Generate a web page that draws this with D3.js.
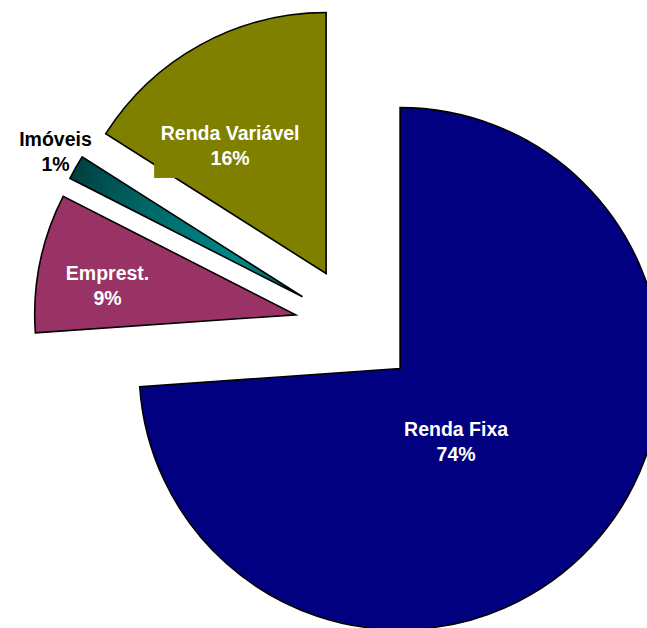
<!DOCTYPE html>
<html>
<head>
  <meta charset="utf-8">
  <title>Composição da carteira</title>
  <script src="https://cdn.jsdelivr.net/npm/d3@7"></script>
  <style>
    body { margin: 0; background: #fff; }
    text { font-family: Arial, "Liberation Sans", sans-serif; font-weight: bold; }
  </style>
</head>
<body>
  <svg id="chart"></svg>
  <script>
    // data, clockwise from 12 o'clock
    var categories = ["Renda Fixa", "Emprest.", "Imóveis", "Renda Variável"];
    var values = [73.9, 8.6, 1.5, 16.0];
    var pctLabels = ["74%", "9%", "1%", "16%"];
    var colors = ["#000080", "#993366", "url(#tealGrad)", "#808000"];

    var width = 647, height = 628;
    var cx = 355.5, cy = 327, radius = 261, explode = 61;

    // label placement relative to each slice tip (layout only)
    var labelOffset = [[56, 71.4], [-188.2, -30.8], [-247, -147], [-96, -129.6]];
    var labelColor = ["#fff", "#fff", "#000", "#fff"];
    var lineGap = 25;

    var svg = d3.select("#chart")
      .attr("width", width)
      .attr("height", height);

    var defs = svg.append("defs");
    var g = defs.append("linearGradient")
      .attr("id", "tealGrad")
      .attr("gradientUnits", "userSpaceOnUse");

    var pie = d3.pie().sort(null).value(function(d) { return d; });
    var arcs = pie(values);
    var arc = d3.arc().innerRadius(0).outerRadius(radius);

    function tip(d) {
      var a = (d.startAngle + d.endAngle) / 2;
      return [cx + explode * Math.sin(a), cy - explode * Math.cos(a)];
    }

    // gradient for the thin slice runs along its mid line
    // (coords are in the slice's own translated space)
    var im = arcs[2], imA = (im.startAngle + im.endAngle) / 2;
    g.attr("x1", radius * Math.sin(imA)).attr("y1", -radius * Math.cos(imA))
     .attr("x2", 0).attr("y2", 0);
    g.append("stop").attr("offset", "0%").attr("stop-color", "#004040");
    g.append("stop").attr("offset", "30%").attr("stop-color", "#006666");
    g.append("stop").attr("offset", "70%").attr("stop-color", "#008888");
    g.append("stop").attr("offset", "100%").attr("stop-color", "#006060");

    svg.append("g").selectAll("path")
      .data(arcs)
      .join("path")
      .attr("transform", function(d) { var t = tip(d); return "translate(" + t[0] + "," + t[1] + ")"; })
      .attr("d", arc)
      .attr("fill", function(d, i) { return colors[i]; })
      .attr("stroke", "#000")
      .attr("stroke-width", 1.6)
      .attr("stroke-linejoin", "miter");

    function labelPos(d, i) {
      var t = tip(d);
      return [t[0] + labelOffset[i][0], t[1] + labelOffset[i][1]];
    }

    // Renda Variável label has an olive box behind it
    var rvPos = labelPos(arcs[3], 3);
    svg.append("rect")
      .attr("x", rvPos[0] - 76)
      .attr("y", rvPos[1] - 24)
      .attr("width", 152)
      .attr("height", 58)
      .attr("fill", "#808000");

    var labels = svg.append("g").selectAll("text")
      .data(arcs)
      .join("text")
      .attr("text-anchor", "middle")
      .attr("font-size", 19.5)
      .attr("fill", function(d, i) { return labelColor[i]; })
      .attr("transform", function(d, i) {
        var p = labelPos(d, i);
        return "translate(" + p[0] + "," + p[1] + ")";
      });

    labels.append("tspan").attr("x", 0).attr("y", -4)
      .text(function(d, i) { return categories[i]; });
    labels.append("tspan").attr("x", 0).attr("y", -4 + lineGap)
      .text(function(d, i) { return pctLabels[i]; });
  </script>
</body>
</html>
